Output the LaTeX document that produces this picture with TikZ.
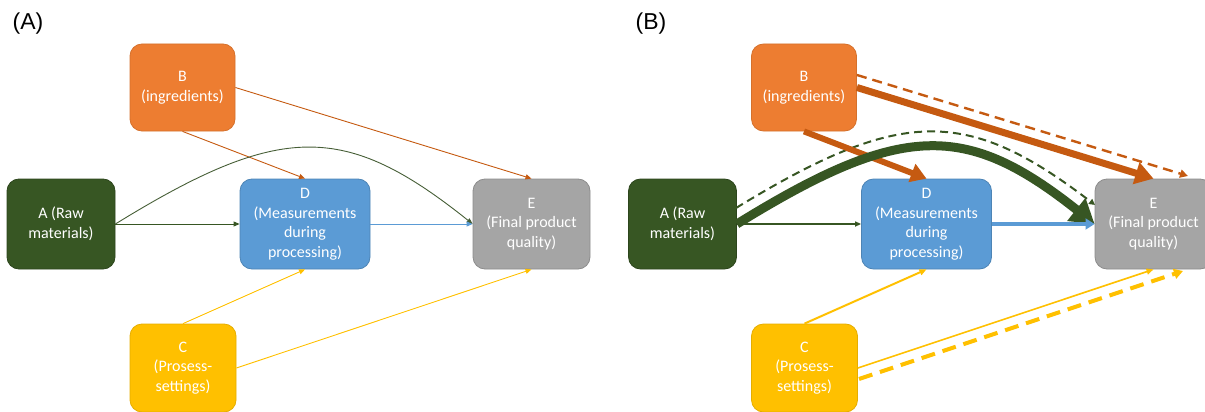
\documentclass[tikz,border=0pt]{standalone}
\usepackage{fontspec}
\setmainfont{Carlito}
\newfontfamily\panelfont{Liberation Sans}
\usetikzlibrary{arrows.meta,calc}
\definecolor{cgreen}{HTML}{375623}
\definecolor{corange}{HTML}{ED7D31}
\definecolor{cdorange}{HTML}{C55A11}
\definecolor{cblue}{HTML}{5B9BD5}
\definecolor{cgray}{HTML}{A5A5A5}
\definecolor{cyellow}{HTML}{FFC000}
\begin{document}
\begin{tikzpicture}[x=1pt,y=-1pt,
  box/.style={rectangle, rounded corners=12pt, inner sep=0pt, align=center,
    text=white, font=\fontsize{16}{19.5}\selectfont, line width=0.8pt},
  boxA/.style={box, fill=cgreen, draw=cgreen!80!black, minimum width=108pt, minimum height=90pt},
  boxB/.style={box, fill=corange, draw=corange!90!black, minimum width=105pt, minimum height=87pt},
  boxC/.style={box, fill=cyellow, draw=cyellow!90!black, minimum width=106pt, minimum height=88pt},
  boxD/.style={box, fill=cblue, draw=cblue!85!black, minimum width=130pt, minimum height=90pt},
  boxE/.style={box, fill=cgray, draw=cgray!85!black, minimum width=117pt, minimum height=90pt},
  panel/.style={font=\panelfont\fontsize{23}{26}\selectfont, inner sep=0pt},
  thin/.style={line width=0.9pt, -{Triangle[length=6pt,width=5pt]}},
  bigarrow/.style={line width=#1, -{Triangle[length=#1*2.6,width=#1*3.1]}},
]
\useasboundingbox (0,0) rectangle (1205,412);

% ---------- Panel A ----------
\node[panel] (labA) at (28,24) {(A)};
\node[boxA] (aA) at (61,224) {A (Raw\\materials)};
\node[boxB] (aB) at (182.5,87.5) {B\\(ingredients)};
\node[boxC] (aC) at (183,368) {C\\(Prosess-\\settings)};
\node[boxD] (aD) at (305,224) {D\\(Measurements\\during\\processing)};
\node[boxE] (aE) at (531.5,224) {E\\(Final product\\quality)};

\draw[thin, cdorange] (aB.south) -- (aD.north);
\draw[thin, cdorange] (aB.east) -- (aE.north);
\draw[thin, cgreen] (aA.east) -- (aD.west);
\draw[thin, cgreen!80!gray] (aA.east) .. controls (281,122) and (345,122) .. (aE.west);
\draw[thin, cblue] (aD.east) -- (aE.west);
\draw[thin, cyellow] (aC.north) -- (aD.south);
\draw[thin, cyellow] (aC.east) -- (aE.south);

% ---------- Panel B ----------
\node[panel] (labB) at (651,24) {(B)};
\node[boxA] (bA) at (682.5,224) {A (Raw\\materials)};
\node[boxB] (bB) at (804,87.5) {B\\(ingredients)};
\node[boxC] (bC) at (804.5,368) {C\\(Prosess-\\settings)};
\node[boxD] (bD) at (926.5,224) {D\\(Measurements\\during\\processing)};
\node[boxE] (bE) at (1153.5,224) {E\\(Final product\\quality)};

\coordinate (bBup) at (857,75);
\coordinate (bEtr) at (1188,176);
\coordinate (bAup) at (736,208);
\coordinate (bEup) at (1095,205);
\coordinate (bClo) at (859,379);
\coordinate (bEbr) at (1183,271);

% dashed
\draw[cdorange, line width=2.4pt, dash pattern=on 10pt off 6pt, -{Triangle[length=8pt,width=8pt]}] (bBup) -- (bEtr);
\draw[cgreen, line width=2pt, dash pattern=on 8pt off 5pt, -{Triangle[length=6pt,width=6pt]}] (bAup) .. controls (900,108) and (966,106) .. (bEup);
\draw[cyellow, line width=4pt, dash pattern=on 14pt off 8pt, -{Triangle[length=9pt,width=10pt]}] (bClo) -- (bEbr);

% solid
\draw[cdorange, bigarrow=7pt] (bB.east) -- (bE.north);
\draw[cdorange, bigarrow=6pt] (bB.south) -- (bD.north);
\draw[cgreen, line width=1.6pt, -{Triangle[length=6pt,width=5pt]}] (bA.east) -- (bD.west);
\draw[cgreen, bigarrow=9pt] (bA.east) .. controls (902,122) and (966,122) .. (bE.west);
\draw[cblue, bigarrow=3.5pt] (bD.east) -- (bE.west);
\draw[cyellow, line width=2pt, -{Triangle[length=7pt,width=6pt]}] (bC.north) -- (bD.south);
\draw[cyellow, line width=1.6pt, -{Triangle[length=7pt,width=6pt]}] (bC.east) -- (bE.south);
\end{tikzpicture}
\end{document}
